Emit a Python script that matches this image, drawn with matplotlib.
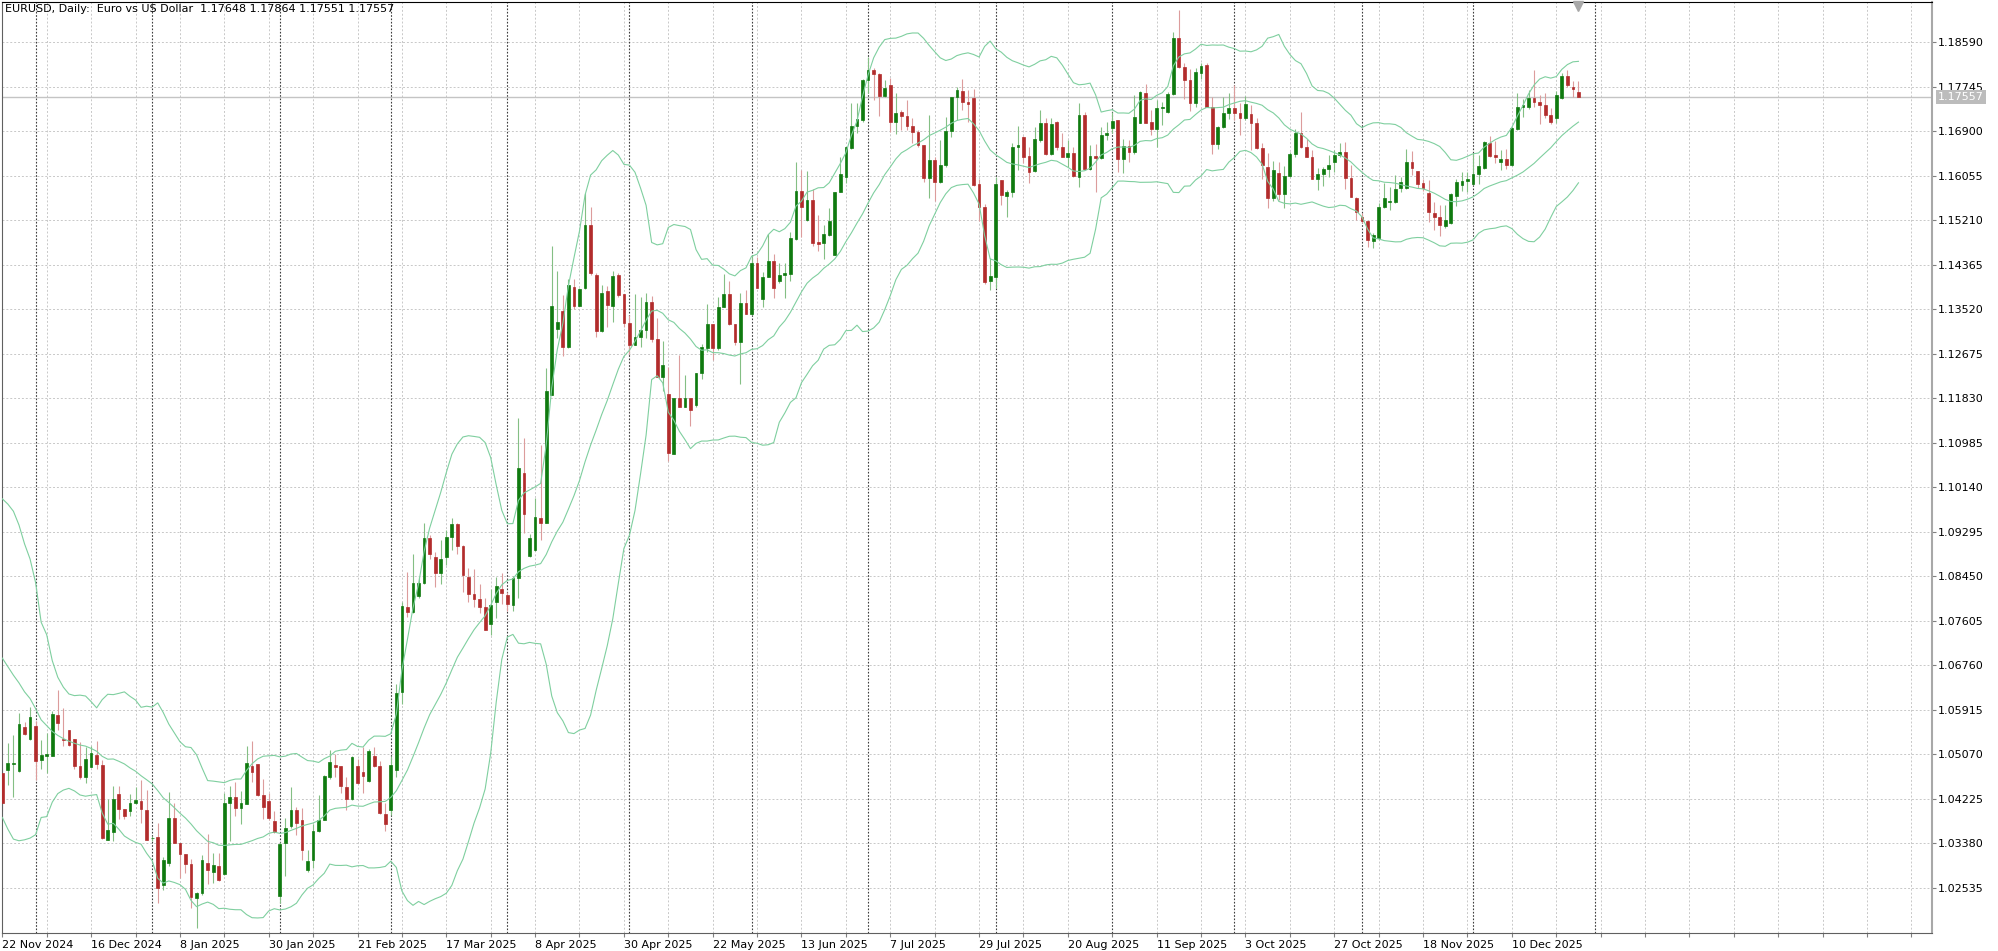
import numpy as np
import matplotlib.pyplot as plt
from matplotlib.transforms import blended_transform_factory

# EURUSD daily candles, bar 0 = 22 Nov 2024, one bar per weekday (no 25 Dec)
open_ = [
    1.0472, 1.0478, 1.0488, 1.0475, 1.0559, 1.0537, 1.0561, 1.0496, 1.0504, 1.0504,
    1.0581, 1.0537, 1.0553, 1.0537, 1.0485, 1.0464, 1.0483, 1.0506, 1.0487, 1.0345,
    1.0360, 1.0431, 1.0404, 1.0400, 1.0414, 1.0418, 1.0401, 1.0348, 1.0350, 1.0258,
    1.0300, 1.0387, 1.0338, 1.0317, 1.0299, 1.0235, 1.0244, 1.0300, 1.0283, 1.0295,
    1.0279, 1.0415, 1.0426, 1.0406, 1.0412, 1.0484, 1.0488, 1.0429, 1.0418, 1.0380,
    1.0238, 1.0339, 1.0371, 1.0401, 1.0383, 1.0288, 1.0307, 1.0361, 1.0383, 1.0463,
    1.0486, 1.0485, 1.0444, 1.0422, 1.0484, 1.0473, 1.0456, 1.0504, 1.0484, 1.0393,
    1.0402, 1.0478, 1.0625, 1.0786, 1.0777, 1.0808, 1.0833, 1.0918, 1.0881, 1.0852,
    1.0881, 1.0920, 1.0944, 1.0902, 1.0844, 1.0812, 1.0801, 1.0786, 1.0754, 1.0797,
    1.0820, 1.0810, 1.0791, 1.0842, 1.1042, 1.0884, 1.0895, 1.0955, 1.0946, 1.1190,
    1.1314, 1.1348, 1.1280, 1.1394, 1.1359, 1.1393, 1.1513, 1.1417, 1.1310, 1.1387,
    1.1358, 1.1417, 1.1381, 1.1326, 1.1284, 1.1299, 1.1312, 1.1366, 1.1295, 1.1223,
    1.1191, 1.1077, 1.1184, 1.1166, 1.1184, 1.1170, 1.1231, 1.1278, 1.1324, 1.1278,
    1.1357, 1.1381, 1.1324, 1.1290, 1.1364, 1.1343, 1.1439, 1.1371, 1.1414, 1.1444,
    1.1405, 1.1417, 1.1419, 1.1485, 1.1577, 1.1522, 1.1559, 1.1479, 1.1477, 1.1493,
    1.1455, 1.1574, 1.1604, 1.1658, 1.1700, 1.1712, 1.1787, 1.1806, 1.1799, 1.1757,
    1.1778, 1.1708, 1.1727, 1.1719, 1.1700, 1.1689, 1.1664, 1.1601, 1.1636, 1.1594,
    1.1626, 1.1691, 1.1756, 1.1767, 1.1746, 1.1753, 1.1590, 1.1547, 1.1405, 1.1413,
    1.1598, 1.1567, 1.1574, 1.1660, 1.1680, 1.1643, 1.1615, 1.1673, 1.1705, 1.1647,
    1.1708, 1.1660, 1.1642, 1.1649, 1.1604, 1.1721, 1.1618, 1.1643, 1.1639, 1.1683,
    1.1696, 1.1711, 1.1637, 1.1662, 1.1650, 1.1706, 1.1762, 1.1708, 1.1694, 1.1734,
    1.1727, 1.1761, 1.1867, 1.1813, 1.1787, 1.1743, 1.1801, 1.1816, 1.1736, 1.1666,
    1.1699, 1.1725, 1.1734, 1.1725, 1.1715, 1.1722, 1.1706, 1.1658, 1.1623, 1.1563,
    1.1611, 1.1570, 1.1606, 1.1647, 1.1686, 1.1660, 1.1641, 1.1599, 1.1609, 1.1618,
    1.1632, 1.1645, 1.1650, 1.1601, 1.1563, 1.1527, 1.1519, 1.1481, 1.1487, 1.1547,
    1.1556, 1.1556, 1.1582, 1.1582, 1.1632, 1.1615, 1.1591, 1.1573, 1.1535, 1.1527,
    1.1511, 1.1515, 1.1567, 1.1588, 1.1595, 1.1590, 1.1609, 1.1620, 1.1668, 1.1645,
    1.1632, 1.1637, 1.1626, 1.1694, 1.1736, 1.1736, 1.1753, 1.1746, 1.1740, 1.1721,
    1.1715, 1.1753, 1.1795, 1.1775, 1.17648]
high = [
    1.0480, 1.0528, 1.0544, 1.0586, 1.0569, 1.0596, 1.0571, 1.0534, 1.0547, 1.0590,
    1.0629, 1.0594, 1.0554, 1.0537, 1.0531, 1.0521, 1.0523, 1.0533, 1.0497, 1.0422,
    1.0447, 1.0447, 1.0404, 1.0432, 1.0444, 1.0458, 1.0439, 1.0352, 1.0376, 1.0312,
    1.0436, 1.0415, 1.0338, 1.0317, 1.0309, 1.0246, 1.0315, 1.0355, 1.0320, 1.0320,
    1.0434, 1.0447, 1.0455, 1.0437, 1.0523, 1.0532, 1.0488, 1.0460, 1.0434, 1.0399,
    1.0340, 1.0387, 1.0444, 1.0407, 1.0406, 1.0326, 1.0374, 1.0429, 1.0467, 1.0515,
    1.0507, 1.0485, 1.0463, 1.0504, 1.0499, 1.0520, 1.0518, 1.0520, 1.0494, 1.0415,
    1.0504, 1.0640, 1.0797, 1.0853, 1.0888, 1.0844, 1.0946, 1.0923, 1.0892, 1.0913,
    1.0933, 1.0955, 1.0946, 1.0905, 1.0861, 1.0858, 1.0830, 1.0804, 1.0820, 1.0844,
    1.0852, 1.0815, 1.0845, 1.1145, 1.1108, 1.0925, 1.0993, 1.1095, 1.1240, 1.1472,
    1.1424, 1.1379, 1.1410, 1.1410, 1.1392, 1.1573, 1.1546, 1.1421, 1.1398, 1.1396,
    1.1425, 1.1421, 1.1381, 1.1341, 1.1381, 1.1376, 1.1382, 1.1377, 1.1335, 1.1292,
    1.1243, 1.1184, 1.1265, 1.1227, 1.1184, 1.1231, 1.1286, 1.1363, 1.1324, 1.1376,
    1.1419, 1.1406, 1.1324, 1.1383, 1.1388, 1.1455, 1.1452, 1.1423, 1.1495, 1.1457,
    1.1439, 1.1439, 1.1499, 1.1632, 1.1617, 1.1615, 1.1580, 1.1531, 1.1512, 1.1544,
    1.1575, 1.1641, 1.1661, 1.1744, 1.1744, 1.1789, 1.1832, 1.1810, 1.1800, 1.1787,
    1.1791, 1.1762, 1.1730, 1.1749, 1.1715, 1.1693, 1.1664, 1.1721, 1.1642, 1.1674,
    1.1717, 1.1756, 1.1775, 1.1789, 1.1768, 1.1770, 1.1599, 1.1552, 1.1449, 1.1604,
    1.1598, 1.1578, 1.1668, 1.1700, 1.1681, 1.1661, 1.1699, 1.1731, 1.1715, 1.1715,
    1.1710, 1.1686, 1.1674, 1.1661, 1.1743, 1.1727, 1.1664, 1.1666, 1.1699, 1.1708,
    1.1727, 1.1711, 1.1675, 1.1674, 1.1759, 1.1767, 1.1780, 1.1731, 1.1749, 1.1746,
    1.1765, 1.1879, 1.1920, 1.1819, 1.1808, 1.1810, 1.1819, 1.1819, 1.1755, 1.1700,
    1.1755, 1.1762, 1.1778, 1.1744, 1.1757, 1.1740, 1.1715, 1.1667, 1.1648, 1.1633,
    1.1631, 1.1625, 1.1650, 1.1694, 1.1727, 1.1675, 1.1655, 1.1620, 1.1623, 1.1645,
    1.1655, 1.1668, 1.1670, 1.1626, 1.1565, 1.1534, 1.1522, 1.1497, 1.1553, 1.1591,
    1.1585, 1.1607, 1.1604, 1.1656, 1.1653, 1.1615, 1.1599, 1.1598, 1.1556, 1.1550,
    1.1550, 1.1572, 1.1599, 1.1613, 1.1613, 1.1648, 1.1645, 1.1672, 1.1681, 1.1672,
    1.1655, 1.1656, 1.1698, 1.1763, 1.1751, 1.1769, 1.1806, 1.1759, 1.1763, 1.1735,
    1.1767, 1.1800, 1.1806, 1.1786, 1.17864]
low = [
    1.0400, 1.0449, 1.0425, 1.0474, 1.0544, 1.0535, 1.0459, 1.0480, 1.0472, 1.0504,
    1.0553, 1.0523, 1.0523, 1.0480, 1.0461, 1.0453, 1.0482, 1.0479, 1.0347, 1.0344,
    1.0343, 1.0384, 1.0384, 1.0390, 1.0413, 1.0376, 1.0344, 1.0343, 1.0224, 1.0249,
    1.0295, 1.0338, 1.0273, 1.0281, 1.0215, 1.0177, 1.0240, 1.0260, 1.0262, 1.0266,
    1.0277, 1.0342, 1.0390, 1.0374, 1.0412, 1.0454, 1.0428, 1.0385, 1.0383, 1.0358,
    1.0225, 1.0276, 1.0368, 1.0353, 1.0307, 1.0283, 1.0292, 1.0359, 1.0382, 1.0461,
    1.0463, 1.0434, 1.0402, 1.0420, 1.0450, 1.0434, 1.0454, 1.0482, 1.0393, 1.0361,
    1.0391, 1.0463, 1.0603, 1.0767, 1.0775, 1.0804, 1.0831, 1.0877, 1.0824, 1.0830,
    1.0867, 1.0894, 1.0888, 1.0816, 1.0797, 1.0786, 1.0775, 1.0743, 1.0733, 1.0766,
    1.0793, 1.0780, 1.0780, 1.0804, 1.0928, 1.0881, 1.0893, 1.0913, 1.0946, 1.1190,
    1.1297, 1.1263, 1.1278, 1.1352, 1.1358, 1.1391, 1.1417, 1.1300, 1.1309, 1.1318,
    1.1328, 1.1376, 1.1318, 1.1267, 1.1284, 1.1281, 1.1297, 1.1290, 1.1223, 1.1197,
    1.1064, 1.1077, 1.1166, 1.1166, 1.1130, 1.1167, 1.1219, 1.1271, 1.1256, 1.1275,
    1.1357, 1.1322, 1.1284, 1.1211, 1.1343, 1.1341, 1.1392, 1.1357, 1.1414, 1.1373,
    1.1401, 1.1373, 1.1405, 1.1484, 1.1490, 1.1520, 1.1472, 1.1463, 1.1447, 1.1491,
    1.1455, 1.1574, 1.1591, 1.1656, 1.1686, 1.1708, 1.1762, 1.1750, 1.1719, 1.1756,
    1.1689, 1.1685, 1.1693, 1.1693, 1.1668, 1.1661, 1.1594, 1.1563, 1.1558, 1.1591,
    1.1623, 1.1679, 1.1712, 1.1730, 1.1708, 1.1586, 1.1519, 1.1400, 1.1389, 1.1392,
    1.1550, 1.1528, 1.1565, 1.1617, 1.1629, 1.1591, 1.1613, 1.1670, 1.1645, 1.1645,
    1.1655, 1.1641, 1.1623, 1.1604, 1.1585, 1.1617, 1.1617, 1.1575, 1.1637, 1.1673,
    1.1686, 1.1613, 1.1610, 1.1631, 1.1647, 1.1705, 1.1705, 1.1683, 1.1661, 1.1702,
    1.1725, 1.1759, 1.1810, 1.1751, 1.1729, 1.1737, 1.1790, 1.1736, 1.1647, 1.1656,
    1.1696, 1.1713, 1.1711, 1.1683, 1.1712, 1.1655, 1.1656, 1.1599, 1.1544, 1.1557,
    1.1560, 1.1544, 1.1604, 1.1642, 1.1658, 1.1641, 1.1599, 1.1579, 1.1586, 1.1604,
    1.1613, 1.1642, 1.1580, 1.1565, 1.1522, 1.1515, 1.1471, 1.1469, 1.1484, 1.1544,
    1.1541, 1.1553, 1.1575, 1.1580, 1.1607, 1.1582, 1.1577, 1.1518, 1.1503, 1.1491,
    1.1506, 1.1514, 1.1548, 1.1577, 1.1575, 1.1588, 1.1590, 1.1618, 1.1642, 1.1629,
    1.1617, 1.1618, 1.1624, 1.1692, 1.1718, 1.1732, 1.1737, 1.1704, 1.1716, 1.1704,
    1.1705, 1.1751, 1.1775, 1.1756, 1.17551]
close = [
    1.0414, 1.0491, 1.0490, 1.0564, 1.0545, 1.0577, 1.0495, 1.0506, 1.0507, 1.0583,
    1.0566, 1.0534, 1.0525, 1.0485, 1.0463, 1.0499, 1.0509, 1.0489, 1.0349, 1.0363,
    1.0423, 1.0403, 1.0389, 1.0414, 1.0420, 1.0404, 1.0344, 1.0348, 1.0254, 1.0307,
    1.0387, 1.0338, 1.0318, 1.0299, 1.0237, 1.0243, 1.0307, 1.0288, 1.0296, 1.0268,
    1.0415, 1.0426, 1.0406, 1.0415, 1.0490, 1.0473, 1.0429, 1.0407, 1.0387, 1.0359,
    1.0336, 1.0368, 1.0401, 1.0377, 1.0326, 1.0304, 1.0361, 1.0382, 1.0466, 1.0493,
    1.0482, 1.0447, 1.0422, 1.0501, 1.0453, 1.0466, 1.0513, 1.0484, 1.0396, 1.0374,
    1.0486, 1.0624, 1.0788, 1.0777, 1.0833, 1.0833, 1.0918, 1.0888, 1.0852, 1.0877,
    1.0920, 1.0944, 1.0902, 1.0848, 1.0812, 1.0801, 1.0786, 1.0743, 1.0791, 1.0826,
    1.0813, 1.0792, 1.0842, 1.1050, 1.0963, 1.0917, 1.0957, 1.0946, 1.1196, 1.1359,
    1.1328, 1.1281, 1.1398, 1.1358, 1.1390, 1.1513, 1.1421, 1.1310, 1.1383, 1.1360,
    1.1415, 1.1380, 1.1326, 1.1284, 1.1299, 1.1312, 1.1366, 1.1295, 1.1223, 1.1246,
    1.1080, 1.1184, 1.1167, 1.1184, 1.1161, 1.1231, 1.1280, 1.1324, 1.1278, 1.1357,
    1.1381, 1.1324, 1.1290, 1.1364, 1.1344, 1.1439, 1.1392, 1.1414, 1.1444, 1.1392,
    1.1417, 1.1420, 1.1488, 1.1577, 1.1546, 1.1559, 1.1477, 1.1476, 1.1495, 1.1520,
    1.1575, 1.1609, 1.1661, 1.1700, 1.1713, 1.1787, 1.1806, 1.1799, 1.1757, 1.1772,
    1.1708, 1.1725, 1.1719, 1.1700, 1.1689, 1.1664, 1.1601, 1.1636, 1.1594, 1.1626,
    1.1691, 1.1756, 1.1768, 1.1746, 1.1742, 1.1588, 1.1547, 1.1403, 1.1415, 1.1590,
    1.1569, 1.1575, 1.1660, 1.1664, 1.1641, 1.1613, 1.1675, 1.1705, 1.1647, 1.1704,
    1.1660, 1.1641, 1.1649, 1.1605, 1.1721, 1.1618, 1.1643, 1.1639, 1.1683, 1.1686,
    1.1710, 1.1637, 1.1662, 1.1650, 1.1718, 1.1764, 1.1706, 1.1694, 1.1734, 1.1736,
    1.1761, 1.1867, 1.1813, 1.1787, 1.1743, 1.1803, 1.1814, 1.1736, 1.1666, 1.1699,
    1.1725, 1.1734, 1.1724, 1.1715, 1.1742, 1.1706, 1.1658, 1.1626, 1.1563, 1.1617,
    1.1570, 1.1606, 1.1647, 1.1686, 1.1660, 1.1641, 1.1599, 1.1609, 1.1618, 1.1626,
    1.1645, 1.1650, 1.1601, 1.1566, 1.1536, 1.1519, 1.1483, 1.1494, 1.1547, 1.1563,
    1.1558, 1.1581, 1.1593, 1.1632, 1.1620, 1.1590, 1.1582, 1.1537, 1.1527, 1.1512,
    1.1522, 1.1571, 1.1594, 1.1596, 1.1599, 1.1609, 1.1624, 1.1670, 1.1643, 1.1642,
    1.1637, 1.1626, 1.1696, 1.1737, 1.1740, 1.1753, 1.1746, 1.1740, 1.1721, 1.1708,
    1.1759, 1.1795, 1.1778, 1.1770, 1.17557]

# closes of the 19 days before bar 0 (Bollinger 20 needs them)
warmup_close = [1.0815, 1.0815, 1.0856, 1.0884, 1.0833, 1.0880, 1.0930, 1.0729, 1.0800, 1.0719,
                1.0655, 1.0622, 1.0565, 1.0530, 1.0540, 1.0597, 1.0595, 1.0543, 1.0472]

# one label every 16 bars starting at bar 0
date_labels = ['22 Nov 2024', '16 Dec 2024', '8 Jan 2025', '30 Jan 2025', '21 Feb 2025',
               '17 Mar 2025', '8 Apr 2025', '30 Apr 2025', '22 May 2025', '13 Jun 2025',
               '7 Jul 2025', '29 Jul 2025', '20 Aug 2025', '11 Sep 2025', '3 Oct 2025',
               '27 Oct 2025', '18 Nov 2025', '10 Dec 2025']
# bar index of first day of each month (period separators)
month_starts = [6, 27, 50, 70, 91, 113, 135, 156, 179, 200, 222, 245, 265, 287]
price_ticks = [1.02535, 1.03380, 1.04225, 1.05070, 1.05915, 1.06760, 1.07605, 1.08450,
               1.09295, 1.10140, 1.10985, 1.11830, 1.12675, 1.13520, 1.14365, 1.15210,
               1.16055, 1.16900, 1.17745, 1.18590]
header = 'EURUSD, Daily:  Euro vs US Dollar  1.17648 1.17864 1.17551 1.17557'
last_price = 1.17557

W, H = 1999, 951
fig = plt.figure(figsize=(W / 100, H / 100), dpi=100)
ax = fig.add_axes([1.7 / W, 1 - 933 / H, (1932 - 1.7) / W, (933 - 2) / H])
ax.set_xlim(-0.11, 347.7)
ax.set_ylim(1.01677, 1.19355)

o = np.array(open_)
h = np.array(high)
l = np.array(low)
c = np.array(close)
idx = np.arange(len(c))

# grid
for p in price_ticks:
    ax.axhline(p, color='#c8c8c8', lw=0.7, ls=(0, (2, 2)), zorder=0)
for k in range(0, 348, 8):
    if k not in month_starts:
        ax.axvline(k, color='#c8c8c8', lw=0.7, ls=(0, (2, 2)), zorder=0)
for m in month_starts:
    ax.axvline(m, color='#3c3c3c', lw=0.8, ls=(0, (1.5, 1.5)), zorder=1)
ax.axhline(last_price, color='#c4c4c4', lw=1.0, zorder=1)

# candles
up = c >= o
body_col = np.where(up, '#0f7a0f', '#b22c2c')
wick_col = np.where(up, '#84bf84', '#dc9c9c')
ax.vlines(idx, l, h, colors=wick_col, lw=0.8, zorder=2)
ax.bar(idx, np.abs(c - o), bottom=np.minimum(o, c), width=0.5, color=body_col,
       edgecolor=body_col, lw=0.5, zorder=3)

# bollinger bands 20, 2
allc = np.array(warmup_close + close)
mid = np.array([allc[k:k + 20].mean() for k in range(len(c))])
sd = np.array([allc[k:k + 20].std() for k in range(len(c))])
for band in (mid, mid + 2 * sd, mid - 2 * sd):
    ax.plot(idx, band, color='#7fcf9f', lw=0.8, zorder=4)

# axes look
ax.spines['top'].set_color('black')
ax.spines['left'].set_color('#606060')
ax.spines['bottom'].set_color('#606060')
ax.spines['right'].set_color('#a8a8a8')
ax.spines['right'].set_linewidth(1.5)

ax.yaxis.tick_right()
ax.set_yticks(price_ticks)
ax.set_yticklabels(['%.5f' % p for p in price_ticks])
ax.tick_params(axis='y', length=3, width=0.8, color='#808080', labelsize=8, pad=1)

xt = list(range(0, 348, 8))
xl = []
for k in xt:
    if k % 16 == 0 and k // 16 < len(date_labels):
        xl.append(date_labels[k // 16])
    else:
        xl.append('')
ax.set_xticks(xt)
ax.set_xticklabels(xl, ha='left')
ax.tick_params(axis='x', length=3, width=0.8, color='#808080', labelsize=8, pad=2)

# header and last price tag
fig.text(5 / W, 1 - 9 / H, header, fontsize=8, va='center', ha='left')
fig.text(1938 / W, 1 - 97 / H, '%.5f' % last_price, color='white', fontsize=8,
         va='center', ha='left', zorder=10,
         bbox=dict(boxstyle='square,pad=0.15', fc='#bcbcbc', ec='none'))

# chart shift marker
tr = blended_transform_factory(ax.transData, ax.transAxes)
ax.plot([len(c) - 1], [1 - 4 / 931], marker='v', ms=7, color='#a8a8a8',
        transform=tr, clip_on=False, zorder=6)

fig.savefig('out.png', dpi=100)
